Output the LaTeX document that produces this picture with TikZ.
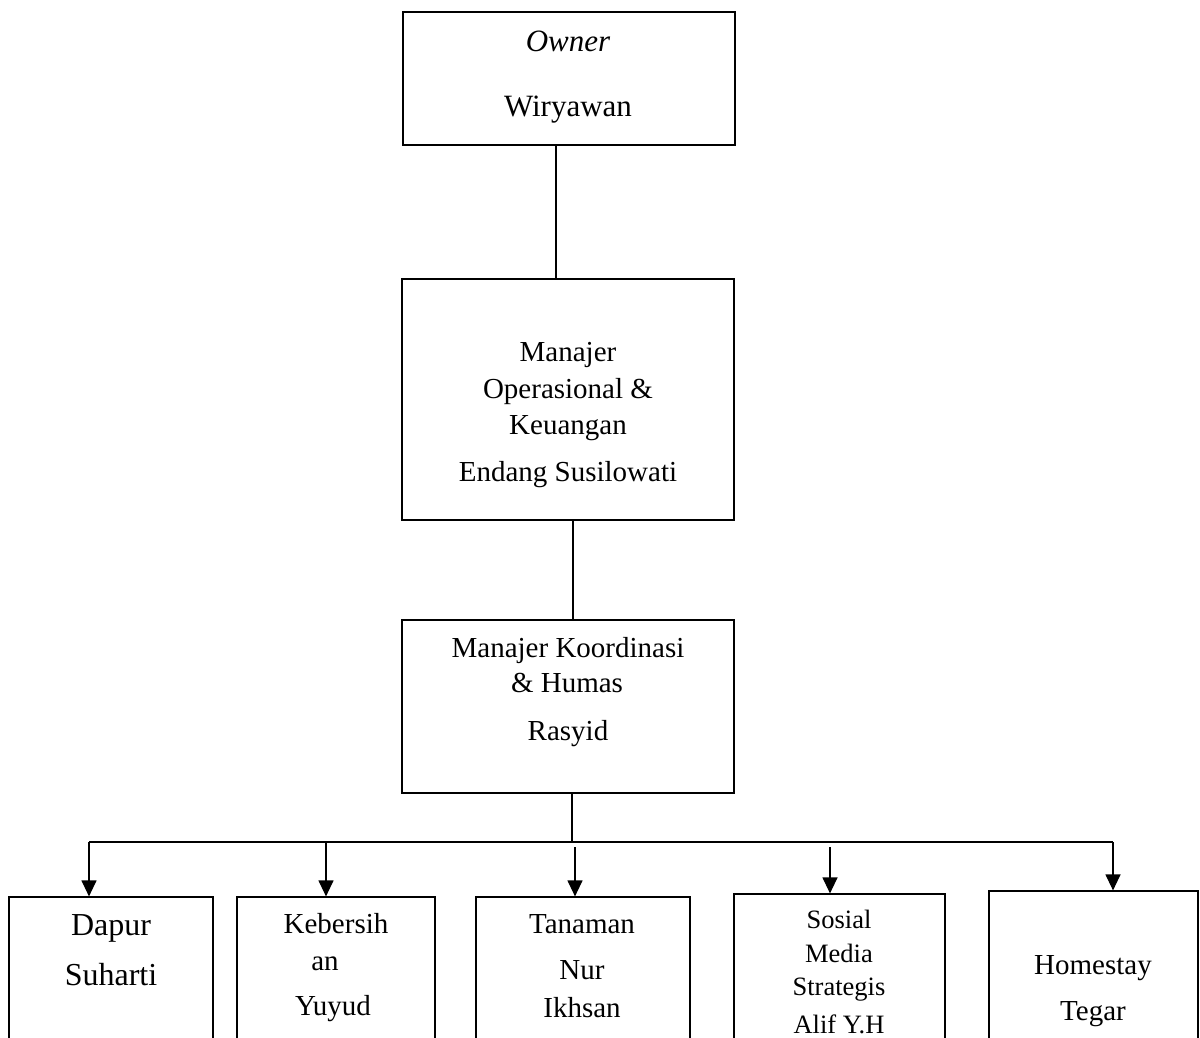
\documentclass[tikz,border=0pt]{standalone}
\usepackage{fontspec}
\setmainfont{Liberation Serif}
\usetikzlibrary{arrows.meta}

\begin{document}
\begin{tikzpicture}[x=0.5pt,y=-0.5pt,
    box/.style={draw,line width=0.6pt,inner sep=0pt},
    txt/.style={anchor=base,inner sep=0pt,font=\fontsize{14.5}{17}\selectfont},
    arr/.style={line width=0.6pt,-{Triangle[width=7.5pt,length=8pt]}}]
    \clip (0,0) rectangle (1200,1038);
    % boxes
    \node[box,minimum width=166pt,minimum height=66.5pt] (owner) at (569,78.5) {};
    \node[box,minimum width=166pt,minimum height=120.5pt] (mop) at (568,399.5) {};
    \node[box,minimum width=166pt,minimum height=86.5pt] (mkh) at (568,706.5) {};
    \node[box,minimum width=102pt,minimum height=91.5pt] (dapur) at (111,988.5) {};
    \node[box,minimum width=99pt,minimum height=91.5pt] (keb) at (336,988.5) {};
    \node[box,minimum width=107pt,minimum height=91.5pt] (tan) at (583,988.5) {};
    \node[box,minimum width=105.5pt,minimum height=93pt] (sos) at (839.5,987) {};
    \node[box,minimum width=104.5pt,minimum height=94.5pt] (home) at (1093.5,985.5) {};
    % texts
    \node[txt,font=\fontsize{15.5}{18}\selectfont] (ownT) at (568,52) {\textit{Owner}};
    \node[txt,font=\fontsize{15.5}{18}\selectfont] (ownN) at (568,117) {Wiryawan};
    \foreach \t/\yy [count=\i] in {Manajer/361,Operasional \&/398,Keuangan/434,Endang Susilowati/481}
        \node[txt] (mop\i) at (568,\yy) {\t};
    \foreach \t/\xx/\yy [count=\i] in {Manajer Koordinasi/568/657,\& Humas/567/692,Rasyid/568/740}
        \node[txt] (mkh\i) at (\xx,\yy) {\t};
    \foreach \t/\yy [count=\i] in {Dapur/935,Suharti/985}
        \node[txt,font=\fontsize{16}{19}\selectfont] (dapur\i) at (111,\yy) {\t};
    \foreach \t/\xx/\yy [count=\i] in {Kebersih/336/933,an/325/970,Yuyud/333/1015}
        \node[txt] (keb\i) at (\xx,\yy) {\t};
    \foreach \t/\yy [count=\i] in {Tanaman/933,Nur/979,Ikhsan/1017}
        \node[txt] (tan\i) at (582,\yy) {\t};
    \foreach \t/\yy [count=\i] in {Sosial/928,Media/962,Strategis/995,Alif Y.H/1033}
        \node[txt,font=\fontsize{13.25}{16}\selectfont] (sos\i) at (839,\yy) {\t};
    \foreach \t/\yy [count=\i] in {Homestay/974,Tegar/1020}
        \node[txt] (home\i) at (1093,\yy) {\t};
    % connectors
    \draw[line width=0.6pt] ([xshift=-6.5pt]owner.south) -- ([xshift=-6pt]mop.north);
    \draw[line width=0.6pt] ([xshift=2.5pt]mop.south) -- ([xshift=2.5pt]mkh.north);
    \coordinate (bar) at (572,842);
    \coordinate (barL) at (89,842);
    \coordinate (barR) at (1113,842);
    \draw[line width=0.6pt] ([xshift=2pt]mkh.south) -- (bar);
    \draw[line width=0.6pt] (barL) -- (barR);
    \foreach \xx/\yy/\n in {89/842/dapur,326/842/keb,575/847/tan,830/847/sos,1113/842/home}{
        \coordinate (t\n) at (\xx,\yy);
        \draw[arr] (t\n) -- (t\n |- \n.north);
    }
\end{tikzpicture}
\end{document}
